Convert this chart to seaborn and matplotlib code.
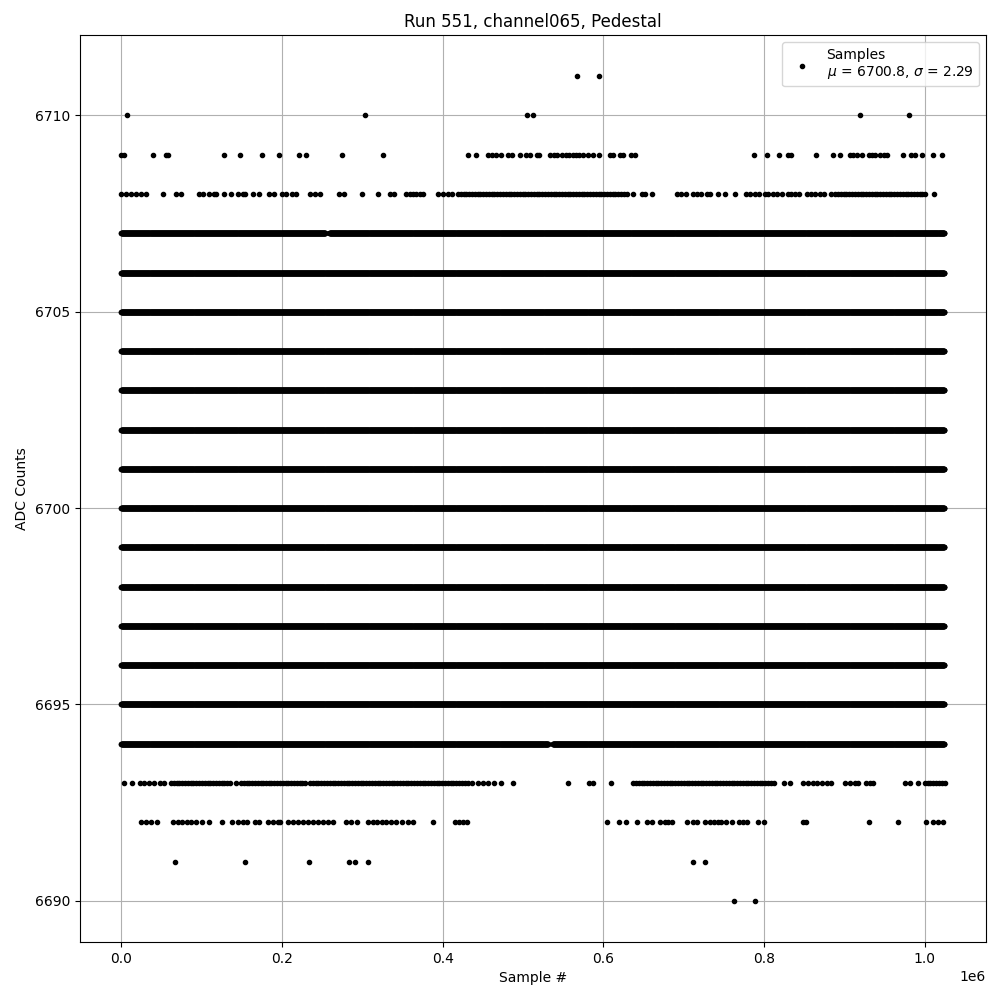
import numpy as np
import pandas as pd
import matplotlib
matplotlib.use("Agg")
import matplotlib.pyplot as plt
import seaborn as sns

RUN = 551
CHANNEL = "channel065"
MEAN_ADC = 6700.8
STD_ADC = 2.29
SAMPLES_PER_K = 1000          # positions below are given in thousands of samples
RUN_END_K = 1024

# Levels hit continuously over the whole run
FULL_LEVELS = [6695, 6696, 6697, 6698, 6699, 6700, 6701, 6702, 6703, 6704, 6705, 6706]

# Continuous stretches (start, end) in k-samples for the edge levels
SPANS_6707 = [(0, 254), (259, 1024)]
SPANS_6694 = [(0, 531), (537, 1024)]
SPANS_6708 = [(419, 629), (892, 1000)]
SPANS_6693 = [(62, 131), (149, 183), (187, 230), (235, 430), (637, 811), (1000, 1024)]

# Isolated samples (k-samples) on the sparse levels
HITS_6711 = [567, 594]
HITS_6710 = [7, 304, 505, 513, 919, 980]
HITS_6709 = [0, 3, 39, 56, 58, 128, 148, 175, 196, 221, 230, 275, 326, 432, 442,
             456, 462, 466, 473, 481, 486, 496, 504, 509, 517, 520, 533, 538, 542,
             549, 553, 557, 562, 566, 570, 575, 581, 587, 595, 608, 612, 621, 625,
             634, 639, 787, 803, 819, 830, 834, 865, 886, 895, 907, 911, 916, 922,
             930, 934, 938, 944, 949, 953, 973, 983, 988, 996, 1010, 1021]
HITS_6708 = [0, 6, 12, 19, 25, 31, 52, 68, 74, 97, 102, 109, 115, 118, 128, 137,
             145, 151, 154, 164, 171, 184, 190, 200, 205, 212, 218, 235, 241, 248,
             271, 277, 300, 320, 334, 340, 354, 359, 363, 367, 372, 375, 394, 400,
             407, 412, 637, 648, 652, 661, 691, 697, 703, 712, 717, 722, 729, 733,
             743, 751, 764, 777, 782, 789, 794, 801, 805, 811, 816, 822, 830, 834,
             838, 844, 853, 858, 863, 869, 874, 883, 888, 1011]
HITS_6693 = [3, 13, 23, 29, 35, 41, 48, 53, 135, 143, 437, 444, 450, 457, 464, 473,
             488, 556, 582, 587, 610, 825, 832, 848, 854, 861, 866, 872, 878, 883,
             901, 907, 913, 917, 927, 932, 936, 975, 981, 991]
HITS_6692 = [25, 31, 37, 44, 65, 71, 76, 82, 87, 93, 100, 109, 125, 138, 145, 151,
             156, 166, 172, 183, 189, 195, 198, 207, 214, 220, 226, 232, 239, 245,
             251, 257, 264, 280, 286, 293, 307, 313, 318, 324, 330, 336, 342, 349,
             357, 363, 388, 415, 420, 425, 430, 604, 619, 628, 642, 654, 660, 670,
             677, 681, 685, 704, 711, 717, 727, 733, 738, 743, 746, 753, 760, 769,
             774, 779, 793, 800, 848, 852, 931, 966, 1002, 1010, 1016, 1023]
HITS_6691 = [67, 154, 234, 283, 291, 307, 711, 727]
HITS_6690 = [762, 789]

DENSE_STEP_K = 0.25
PATCHY_STEP_K = 3.5


def span_samples(spans, step):
    xs = [np.arange(a, b + step / 2, step) for a, b in spans]
    return np.concatenate(xs)


frames = []
for level in FULL_LEVELS:
    xs = span_samples([(0, RUN_END_K)], DENSE_STEP_K)
    frames.append(pd.DataFrame({"sample": xs, "adc": level}))
for level, spans, step in [(6707, SPANS_6707, DENSE_STEP_K),
                           (6694, SPANS_6694, DENSE_STEP_K),
                           (6708, SPANS_6708, PATCHY_STEP_K),
                           (6693, SPANS_6693, PATCHY_STEP_K)]:
    frames.append(pd.DataFrame({"sample": span_samples(spans, step), "adc": level}))
for level, hits in [(6711, HITS_6711), (6710, HITS_6710), (6709, HITS_6709),
                    (6708, HITS_6708), (6693, HITS_6693), (6692, HITS_6692),
                    (6691, HITS_6691), (6690, HITS_6690)]:
    frames.append(pd.DataFrame({"sample": np.asarray(hits, float), "adc": level}))

df = pd.concat(frames, ignore_index=True)
df["sample"] = df["sample"] * SAMPLES_PER_K

fig, ax = plt.subplots(figsize=(10, 10), dpi=100)
# small dots with a thin outline, the look of matplotlib's "." marker
sns.scatterplot(data=df, x="sample", y="adc", color="black", s=9, marker="o",
                edgecolor="black", linewidth=1.0, zorder=2, ax=ax,
                label=f"Samples\n$\\mu$ = {MEAN_ADC}, $\\sigma$ = {STD_ADC}")
ax.grid(True)
ax.set_axisbelow(True)
ax.set_title(f"Run {RUN}, {CHANNEL}, Pedestal")
ax.set_xlabel("Sample #")
ax.set_ylabel("ADC Counts")
ax.legend(loc="upper right")
fig.subplots_adjust(left=0.080, right=0.9857, top=0.965, bottom=0.058)
fig.savefig("out.png", dpi=100)
